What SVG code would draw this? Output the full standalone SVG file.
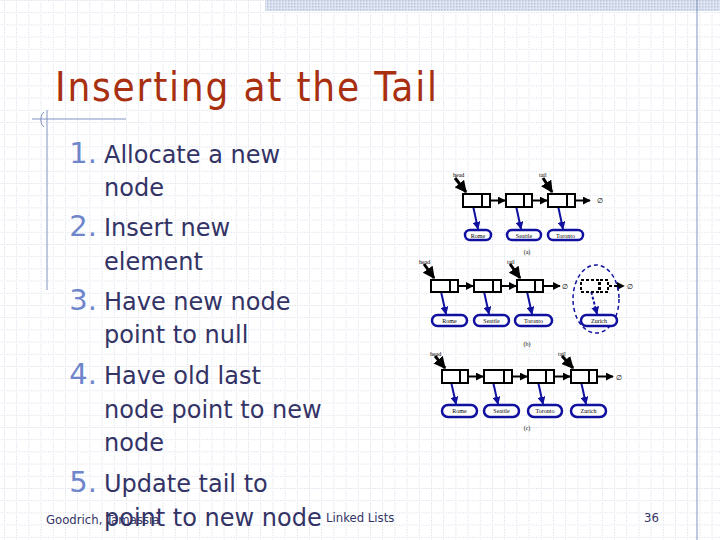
<svg xmlns="http://www.w3.org/2000/svg" width="720" height="540" viewBox="0 0 720 540">
<defs>
<pattern id="grid" x="4" y="0" width="12.2" height="12.2" patternUnits="userSpaceOnUse">
<path d="M0 0.5H12.2M0.5 0V12.2" stroke="#d3d8e6" stroke-width="1" stroke-dasharray="1 1.5" fill="none"/>
</pattern>
<pattern id="band" width="3" height="3" patternUnits="userSpaceOnUse">
<rect width="3" height="3" fill="#dfe5f0"/><rect width="1.5" height="1.5" fill="#b8c4dc"/>
</pattern>
<marker id="ah" viewBox="0 0 10 10" refX="9" refY="5" markerWidth="4" markerHeight="4" orient="auto"><path d="M0 0L10 5L0 10z" fill="#000"/></marker>
<marker id="bh" viewBox="0 0 10 10" refX="9" refY="5" markerWidth="4" markerHeight="4" orient="auto"><path d="M0 0L10 5L0 10z" fill="#1010a0"/></marker>
</defs>
<style>
.t{font-family:"DejaVu Sans",Verdana,sans-serif;font-size:24px;fill:#333366}
.n{font-family:"DejaVu Sans",Verdana,sans-serif;font-size:29px;fill:#6f86cc;text-anchor:end}
.f{font-family:"DejaVu Sans Condensed","DejaVu Sans",sans-serif;font-size:13px;fill:#333366}
.box{fill:#fff;stroke:#000;stroke-width:2}
.dbox{fill:#fff;stroke:#000;stroke-width:2;stroke-dasharray:3 2}
.el{fill:#fff;stroke:#1010a0;stroke-width:2.5}
.nx{stroke:#000;stroke-width:2;fill:none;marker-end:url(#ah)}
.pt{stroke:#000;stroke-width:3;fill:none;marker-end:url(#ah)}
.ep{stroke:#1010a0;stroke-width:2;fill:none;marker-end:url(#bh)}
.lb{font-family:"Liberation Serif",serif;font-size:7px;fill:#000}
.sm{font-family:"Liberation Serif",serif;font-size:6px;fill:#000}
</style>
<rect width="720" height="540" fill="#fff"/>
<rect width="720" height="540" fill="url(#grid)"/>
<rect x="265" y="0" width="455" height="11" fill="url(#band)"/>
<line x1="697" y1="0" x2="697" y2="540" stroke="#7f92c0" stroke-width="1"/>
<line x1="32" y1="119" x2="126" y2="119" stroke="#7f92c0" stroke-width="1"/>
<line x1="47" y1="110" x2="47" y2="290" stroke="#7f92c0" stroke-width="1"/>
<path d="M44 112A5 8 0 0 0 44 127" stroke="#7f92c0" fill="none"/>
<text x="55" y="101" font-family="DejaVu Sans Condensed,DejaVu Sans,sans-serif" font-size="40" fill="#a83010" textLength="382">Inserting at the Tail</text>
<g id="steps">
<text class="n" x="97" y="163">1.</text><text class="t" x="104" y="163">Allocate a new</text>
<text class="t" x="104" y="196">node</text>
<text class="n" x="97" y="236">2.</text><text class="t" x="104" y="236">Insert new</text>
<text class="t" x="104" y="270">element</text>
<text class="n" x="97" y="310">3.</text><text class="t" x="104" y="310">Have new node</text>
<text class="t" x="104" y="343">point to null</text>
<text class="n" x="97" y="384">4.</text><text class="t" x="104" y="384">Have old last</text>
<text class="t" x="104" y="418">node point to new</text>
<text class="t" x="104" y="451">node</text>
<text class="n" x="97" y="492">5.</text><text class="t" x="104" y="492">Update tail to</text>
</g>
<text class="f" x="46" y="524">Goodrich, Tamassia</text>
<text class="t" x="104" y="526">point to new node</text>
<text class="f" x="326" y="522">Linked Lists</text>
<text class="f" x="644" y="522">36</text>

<g id="connectors">
<line class="nx" x1="486" y1="200.5" x2="505" y2="200.5"/>
<line class="nx" x1="528" y1="200.5" x2="547" y2="200.5"/>
<line class="nx" x1="571" y1="200.5" x2="590" y2="200.5"/>
<line class="pt" x1="455" y1="178" x2="466" y2="192"/>
<line class="pt" x1="543" y1="178" x2="552" y2="192"/>
<line class="ep" x1="472" y1="201" x2="478" y2="229"/>
<line class="ep" x1="515" y1="201" x2="521" y2="229"/>
<line class="ep" x1="557" y1="201" x2="563" y2="229"/>
<line class="nx" x1="455" y1="286" x2="473" y2="286"/>
<line class="nx" x1="497" y1="286" x2="516" y2="286"/>
<line class="nx" x1="539" y1="286" x2="560" y2="286"/>
<line class="nx" x1="604" y1="286" x2="624" y2="286" stroke-dasharray="3 2"/>
<line class="pt" x1="424" y1="264" x2="434" y2="278"/>
<line class="pt" x1="510" y1="264" x2="520" y2="278"/>
<line class="ep" x1="440" y1="287" x2="446" y2="314"/>
<line class="ep" x1="483" y1="287" x2="489" y2="314"/>
<line class="ep" x1="526" y1="287" x2="532" y2="314"/>
<line class="ep" x1="590" y1="287" x2="597" y2="314" stroke-dasharray="3 2"/>
<line class="nx" x1="465" y1="376.5" x2="483" y2="376.5"/>
<line class="nx" x1="509" y1="376.5" x2="527" y2="376.5"/>
<line class="nx" x1="551" y1="376.5" x2="570" y2="376.5"/>
<line class="nx" x1="594" y1="376.5" x2="613" y2="376.5"/>
<line class="pt" x1="435" y1="356" x2="445" y2="368"/>
<line class="pt" x1="562" y1="356" x2="573" y2="368"/>
<line class="ep" x1="450" y1="377" x2="456" y2="404"/>
<line class="ep" x1="492" y1="377" x2="498" y2="404"/>
<line class="ep" x1="537" y1="377" x2="543" y2="404"/>
<line class="ep" x1="580" y1="377" x2="586" y2="404"/>
</g>

<g id="list-a">
<rect class="box" x="463" y="194" width="19" height="13"/><rect class="box" x="482" y="194" width="8" height="13"/>
<rect class="box" x="506" y="194" width="18" height="13"/><rect class="box" x="524" y="194" width="8" height="13"/>
<rect class="box" x="548" y="194" width="19" height="13"/><rect class="box" x="567" y="194" width="8" height="13"/>
<text class="lb" x="597" y="203">∅</text>
<rect class="el" x="465" y="230" width="26" height="10" rx="5"/><text class="sm" x="478" y="237.5" text-anchor="middle">Rome</text>
<rect class="el" x="507" y="230" width="34" height="10" rx="5"/><text class="sm" x="524" y="237.5" text-anchor="middle">Seattle</text>
<rect class="el" x="548" y="230" width="35" height="10" rx="5"/><text class="sm" x="565.5" y="237.5" text-anchor="middle">Toronto</text>
<text class="sm" x="527" y="254" text-anchor="middle">(a)</text>
<text class="sm" x="453" y="177">head</text><text class="sm" x="539" y="177">tail</text>
</g>
<g id="list-b">
<rect class="box" x="431" y="280" width="19" height="12"/><rect class="box" x="450" y="280" width="8" height="12"/>
<rect class="box" x="474" y="280" width="19" height="12"/><rect class="box" x="493" y="280" width="8" height="12"/>
<rect class="box" x="517" y="280" width="18" height="12"/><rect class="box" x="535" y="280" width="8" height="12"/>
<text class="lb" x="562" y="289">∅</text>
<ellipse cx="596" cy="299" rx="23" ry="34" fill="none" stroke="#1010a0" stroke-width="1.5" stroke-dasharray="4 3"/>
<rect class="dbox" x="581" y="280" width="18" height="12"/><rect class="dbox" x="600" y="280" width="8" height="12"/>
<text class="lb" x="627" y="289">∅</text>
<rect class="el" x="432" y="315" width="35" height="11" rx="5.5"/><text class="sm" x="449.5" y="323" text-anchor="middle">Rome</text>
<rect class="el" x="474" y="315" width="35" height="11" rx="5.5"/><text class="sm" x="491.5" y="323" text-anchor="middle">Seattle</text>
<rect class="el" x="515" y="315" width="37" height="11" rx="5.5"/><text class="sm" x="533.5" y="323" text-anchor="middle">Toronto</text>
<rect class="el" x="581" y="315" width="36" height="11" rx="5.5"/><text class="sm" x="599" y="323" text-anchor="middle">Zurich</text>
<text class="sm" x="527" y="346" text-anchor="middle">(b)</text>
<text class="sm" x="419" y="264">head</text><text class="sm" x="507" y="264">tail</text>
</g>
<g id="list-c">
<rect class="box" x="442" y="370" width="18" height="13"/><rect class="box" x="460" y="370" width="8" height="13"/>
<rect class="box" x="484" y="370" width="20" height="13"/><rect class="box" x="504" y="370" width="8" height="13"/>
<rect class="box" x="528" y="370" width="18" height="13"/><rect class="box" x="546" y="370" width="8" height="13"/>
<rect class="box" x="571" y="370" width="18" height="13"/><rect class="box" x="589" y="370" width="8" height="13"/>
<text class="lb" x="616" y="380">∅</text>
<rect class="el" x="442" y="405" width="35" height="12" rx="6"/><text class="sm" x="459.5" y="413" text-anchor="middle">Rome</text>
<rect class="el" x="484" y="405" width="35" height="12" rx="6"/><text class="sm" x="501.5" y="413" text-anchor="middle">Seattle</text>
<rect class="el" x="528" y="405" width="34" height="12" rx="6"/><text class="sm" x="545" y="413" text-anchor="middle">Toronto</text>
<rect class="el" x="571" y="405" width="35" height="12" rx="6"/><text class="sm" x="588.5" y="413" text-anchor="middle">Zurich</text>
<text class="sm" x="527" y="430" text-anchor="middle">(c)</text>
<text class="sm" x="430" y="356">head</text><text class="sm" x="558" y="356">tail</text>
</g>
</svg>
